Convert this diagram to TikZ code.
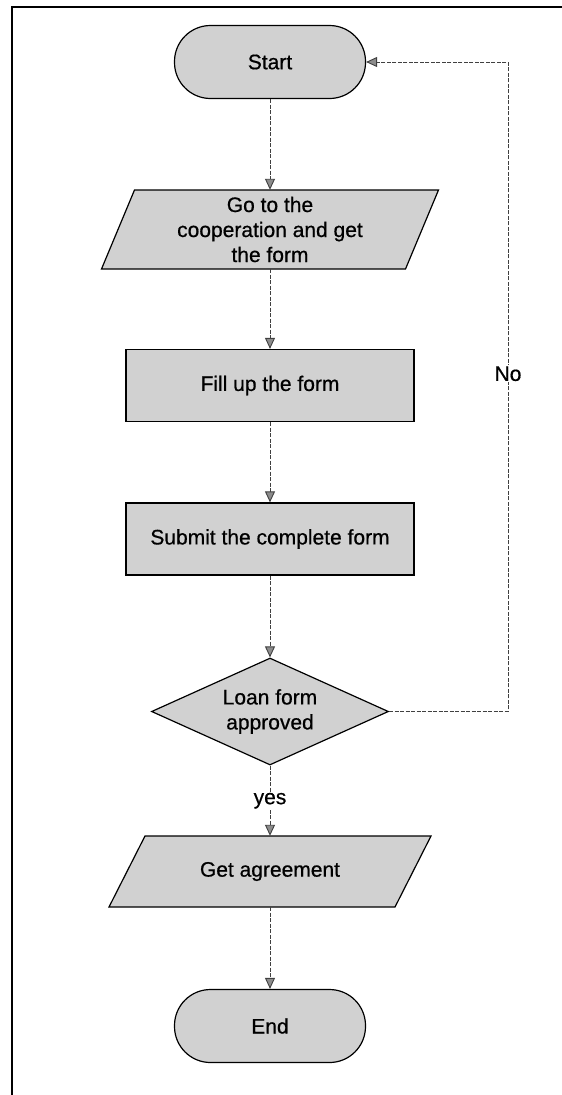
\documentclass[tikz,border=0pt]{standalone}
\usepackage{fontspec}
\setmainfont{Liberation Sans}[FakeBold=0.6]
\usetikzlibrary{shapes.geometric,arrows.meta}
\begin{document}
\begin{tikzpicture}[x=1pt,y=-1pt,
  shp/.style={draw=black, line width=1.2pt, fill=black!18},
  term/.style={shp, rectangle, rounded corners=36pt, minimum width=191pt, minimum height=73pt},
  proc/.style={shp, rectangle, minimum width=288pt, minimum height=72pt},
  dec/.style={shp, diamond, minimum width=237pt, minimum height=107pt, inner sep=0pt, aspect=2.2},
  io/.style={rectangle, inner sep=0pt},
  txt/.style={font=\fontsize{21}{25}\selectfont, align=center},
  conn/.style={draw=black!75, line width=0.9pt, dash pattern=on 4pt off 1.5pt,
    -{Triangle[length=11pt,width=10pt,fill=black!45]}},
  lbl/.style={fill=white, inner sep=1pt, font=\fontsize{21}{25}\selectfont}
]
\useasboundingbox (0,0) rectangle (562,1095);
% frame (left and top edges)
\draw[line width=2.5pt] (12,1095) -- (12,7) -- (562,7);

% parallelogram outlines
\draw[shp] (134.5,190) -- (438.5,190) -- (405.5,269) -- (101.5,269) -- cycle;
\draw[shp] (145,836) -- (431,836) -- (395,907) -- (109,907) -- cycle;

\node[term, txt] (start) at (270,62) {Start};
\node[io, txt, minimum width=304pt, minimum height=79pt] (go) at (270,229.5) {Go to the\\cooperation and get\\the form};
\node[proc, txt] (fill) at (270,385.5) {Fill up the form};
\node[proc, txt] (submit) at (270,539) {Submit the complete form};
\node[dec, txt] (loan) at (270,711.5) {Loan form\\approved};
\node[io, txt, minimum width=286pt, minimum height=71pt] (get) at (270,871.5) {Get agreement};
\node[term, txt] (end) at (270,1026) {End};

\coordinate (c1) at (508,711.5);
\coordinate (c2) at (508,62);

\draw[conn] (start.south) -- (go.north);
\draw[conn] (go.south) -- (fill.north);
\draw[conn] (fill.south) -- (submit.north);
\draw[conn] (submit.south) -- (loan.north);
\draw[conn] (loan.south) -- node[lbl] (yes) {yes} (get.north);
\draw[conn] (get.south) -- (end.north);
\draw[conn] (loan.east) -- (c1) -- node[lbl, pos=0.52] (no) {No} (c2) -- (start.east);
\end{tikzpicture}
\end{document}
